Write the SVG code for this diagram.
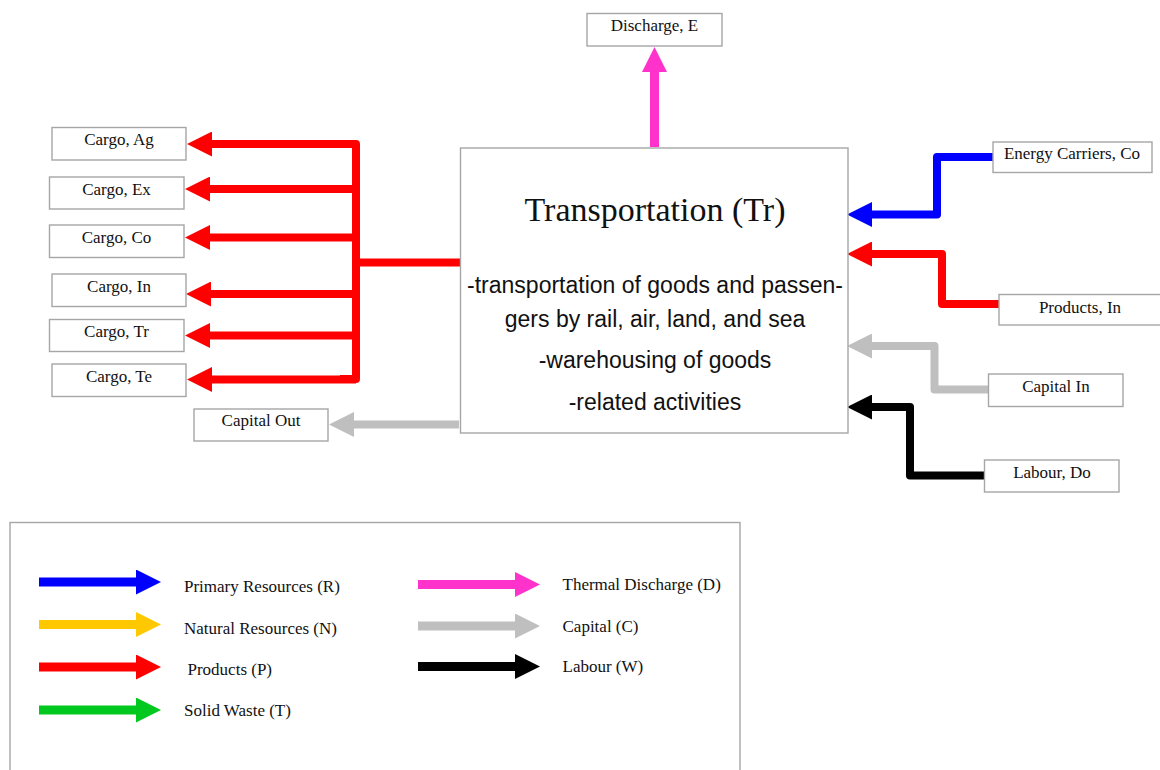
<svg xmlns="http://www.w3.org/2000/svg" width="1160" height="770" viewBox="0 0 1160 770">
<style>
.box{fill:#fff;stroke:#a6a6a6;stroke-width:1.4}
.lbl{font-family:"Liberation Serif","Times New Roman",serif;font-size:17px;fill:#111;text-anchor:middle}
.leg{font-family:"Liberation Serif","Times New Roman",serif;font-size:17px;fill:#111}
.title{font-family:"Liberation Serif","Times New Roman",serif;font-size:34px;fill:#111;text-anchor:middle}
.body{font-family:"Liberation Sans",Arial,sans-serif;font-size:23px;fill:#111;text-anchor:middle}
.ln{fill:none;stroke-width:8;stroke-linejoin:round}
.lg{fill:none;stroke-width:9}
.red{stroke:#ff0000}.blue{stroke:#0000ff}.grey{stroke:#bfbfbf}.blk{stroke:#000}.pink{stroke:#ff33cc}.yel{stroke:#ffc800}.grn{stroke:#00c81e}
</style>
<defs>
<marker id="a-red" markerUnits="userSpaceOnUse" viewBox="0 0 25 25" markerWidth="25" markerHeight="25" refX="0" refY="12.5" orient="auto"><path d="M0,0 L25,12.5 L0,25z" fill="#ff0000"/></marker>
<marker id="a-blue" markerUnits="userSpaceOnUse" viewBox="0 0 25 25" markerWidth="25" markerHeight="25" refX="0" refY="12.5" orient="auto"><path d="M0,0 L25,12.5 L0,25z" fill="#0000ff"/></marker>
<marker id="a-grey" markerUnits="userSpaceOnUse" viewBox="0 0 25 25" markerWidth="25" markerHeight="25" refX="0" refY="12.5" orient="auto"><path d="M0,0 L25,12.5 L0,25z" fill="#bfbfbf"/></marker>
<marker id="a-blk" markerUnits="userSpaceOnUse" viewBox="0 0 25 25" markerWidth="25" markerHeight="25" refX="0" refY="12.5" orient="auto"><path d="M0,0 L25,12.5 L0,25z" fill="#000"/></marker>
<marker id="a-pink" markerUnits="userSpaceOnUse" viewBox="0 0 25 25" markerWidth="25" markerHeight="25" refX="0" refY="12.5" orient="auto"><path d="M0,0 L25,12.5 L0,25z" fill="#ff33cc"/></marker>
<marker id="a-yel" markerUnits="userSpaceOnUse" viewBox="0 0 25 25" markerWidth="25" markerHeight="25" refX="0" refY="12.5" orient="auto"><path d="M0,0 L25,12.5 L0,25z" fill="#ffc800"/></marker>
<marker id="a-grn" markerUnits="userSpaceOnUse" viewBox="0 0 25 25" markerWidth="25" markerHeight="25" refX="0" refY="12.5" orient="auto"><path d="M0,0 L25,12.5 L0,25z" fill="#00c81e"/></marker>
</defs>
<rect width="1160" height="770" fill="#fff"/>

<g id="connectors">
  <path class="ln red" d="M340 144 H356 V379 H340"/>
  <path class="ln red" d="M356 262.5 H462"/>
  <path class="ln red" d="M356 144 H212" marker-end="url(#a-red)"/>
  <path class="ln red" d="M356 189 H210" marker-end="url(#a-red)"/>
  <path class="ln red" d="M356 237.5 H210" marker-end="url(#a-red)"/>
  <path class="ln red" d="M356 294 H211" marker-end="url(#a-red)"/>
  <path class="ln red" d="M356 335.5 H210" marker-end="url(#a-red)"/>
  <path class="ln red" d="M356 379.5 H212" marker-end="url(#a-red)"/>
  <path class="ln grey" d="M459 424.5 H354" marker-end="url(#a-grey)"/>
  <path class="ln pink" style="stroke-width:9" d="M654.5 147 V72" marker-end="url(#a-pink)"/>
  <path class="ln blue" d="M993 157 H937 V214.5 H872" marker-end="url(#a-blue)"/>
  <path class="ln red" d="M999 304 H942 V254 H872" marker-end="url(#a-red)"/>
  <path class="ln grey" d="M988 389.5 H934.5 V346 H872" marker-end="url(#a-grey)"/>
  <path class="ln blk" d="M984 475.5 H910 V407 H872" marker-end="url(#a-blk)"/>
</g>

<g id="node-transport">
  <rect class="box" x="460.5" y="148" width="387.5" height="285"/>
  <text class="title" x="655" y="221">Transportation (Tr)</text>
  <text class="body" x="655" y="293">-transportation of goods and passen-</text>
  <text class="body" x="655" y="327">gers by rail, air, land, and sea</text>
  <text class="body" x="655" y="368">-warehousing of goods</text>
  <text class="body" x="655" y="410">-related activities</text>
</g>

<g id="node-discharge"><rect class="box" x="587" y="13.5" width="135" height="32.5"/><text class="lbl" x="654.5" y="31">Discharge, E</text></g>
<g id="node-cargo-ag"><rect class="box" x="52" y="127.5" width="134" height="32.5"/><text class="lbl" x="119" y="145">Cargo, Ag</text></g>
<g id="node-cargo-ex"><rect class="box" x="49.5" y="177" width="134.5" height="32"/><text class="lbl" x="116.5" y="194.5">Cargo, Ex</text></g>
<g id="node-cargo-co"><rect class="box" x="49.5" y="225" width="134.5" height="32.5"/><text class="lbl" x="116.5" y="243">Cargo, Co</text></g>
<g id="node-cargo-in"><rect class="box" x="52" y="274" width="134" height="32.5"/><text class="lbl" x="119" y="292">Cargo, In</text></g>
<g id="node-cargo-tr"><rect class="box" x="49.5" y="319.5" width="134.5" height="32"/><text class="lbl" x="116.5" y="337">Cargo, Tr</text></g>
<g id="node-cargo-te"><rect class="box" x="52" y="364" width="134" height="32.5"/><text class="lbl" x="119" y="382">Cargo, Te</text></g>
<g id="node-capital-out"><rect class="box" x="194" y="409" width="134" height="32"/><text class="lbl" x="261" y="426">Capital Out</text></g>
<g id="node-energy"><rect class="box" x="993" y="142" width="159" height="30.5"/><text class="lbl" x="1072" y="159">Energy Carriers, Co</text></g>
<g id="node-products-in"><rect class="box" x="999" y="294.5" width="162" height="30.5"/><text class="lbl" x="1080" y="312.5">Products, In</text></g>
<g id="node-capital-in"><rect class="box" x="988.5" y="374" width="134.5" height="32.5"/><text class="lbl" x="1056" y="391.5">Capital In</text></g>
<g id="node-labour"><rect class="box" x="984.5" y="460" width="134.5" height="32"/><text class="lbl" x="1052" y="477.5">Labour, Do</text></g>

<g id="legend">
  <rect class="box" x="10" y="522.5" width="730" height="260"/>
  <path class="lg blue" d="M39 582 H136" marker-end="url(#a-blue)"/>
  <path class="lg yel" d="M39 624.5 H136" marker-end="url(#a-yel)"/>
  <path class="lg red" d="M39 667 H136" marker-end="url(#a-red)"/>
  <path class="lg grn" d="M39 710 H136" marker-end="url(#a-grn)"/>
  <text class="leg" x="184" y="592">Primary Resources (R)</text>
  <text class="leg" x="184" y="633.5">Natural Resources (N)</text>
  <text class="leg" x="187.5" y="675">Products (P)</text>
  <text class="leg" x="184" y="716">Solid Waste (T)</text>
  <path class="lg pink" d="M418 584.5 H515" marker-end="url(#a-pink)"/>
  <path class="lg grey" d="M418 626 H515" marker-end="url(#a-grey)"/>
  <path class="lg blk" d="M418 666.5 H515" marker-end="url(#a-blk)"/>
  <text class="leg" x="562.5" y="590">Thermal Discharge (D)</text>
  <text class="leg" x="562.5" y="631.5">Capital (C)</text>
  <text class="leg" x="562.5" y="672">Labour (W)</text>
</g>
</svg>
